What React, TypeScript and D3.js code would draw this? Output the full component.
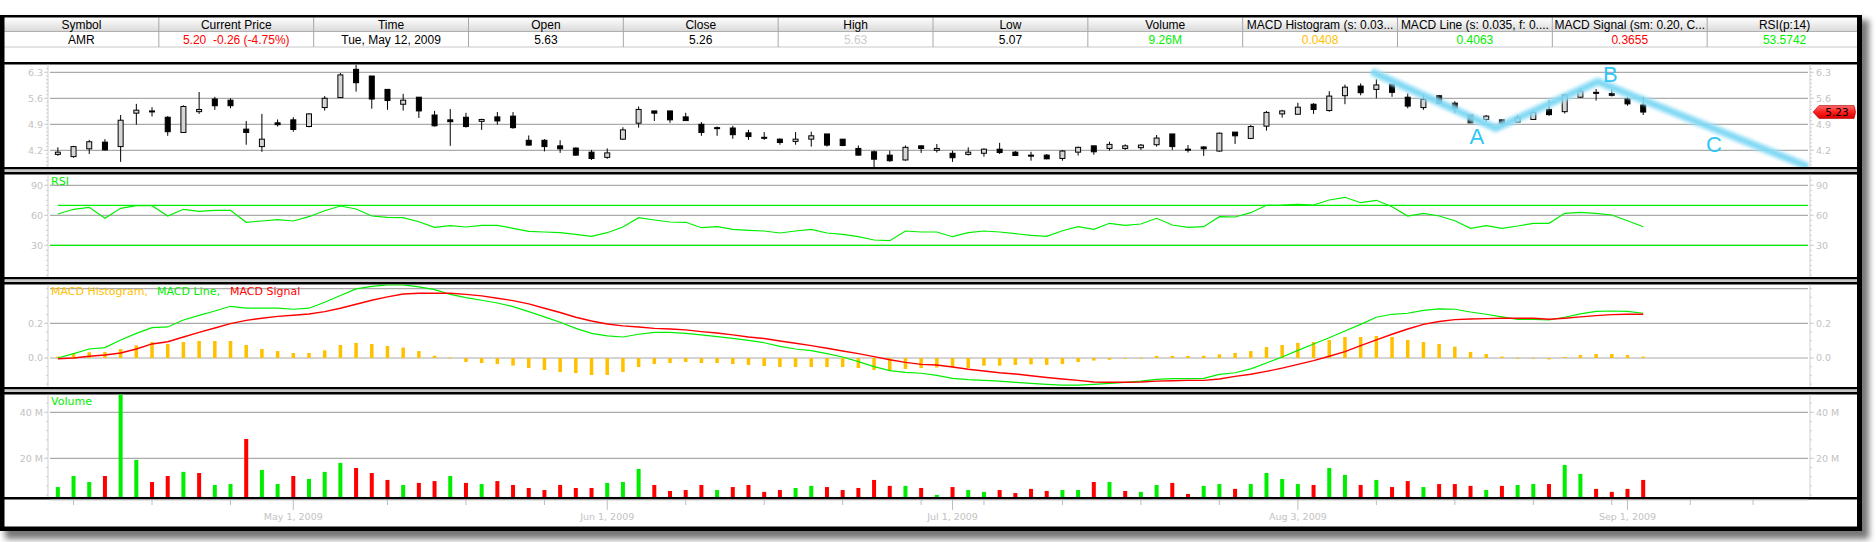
import * as d3 from "d3";

// ---- values (AMR daily, Apr - Sep 2009) ----
const opens = [4.09, 4.03, 4.24, 4.42, 4.30, 5.20, 5.25, 5.09, 4.68, 5.24, 5.58, 5.55, 4.77, 4.30, 4.94, 5.02, 4.84, 5.35, 5.62, 6.38,
  6.20, 5.84, 5.44, 5.63, 5.15, 5.02, 5.09, 4.98, 5.10, 5.12, 4.47, 4.47, 4.32, 4.26, 4.15, 4.01, 4.50, 4.93, 5.26, 5.26,
  5.10, 4.90, 4.81, 4.80, 4.67, 4.55, 4.50, 4.44, 4.50, 4.64, 4.50, 4.25, 4.16, 4.07, 3.94, 4.32, 4.20, 4.12, 4.09, 4.12,
  4.23, 4.15, 4.07, 4.07, 3.98, 4.15, 4.32, 4.25, 4.25, 4.27, 4.35, 4.64, 4.23, 4.29, 4.18, 4.69, 4.52, 4.85, 5.18, 5.17,
  5.44, 5.27, 5.67, 5.93, 5.84, 5.98, 5.63, 5.35, 5.67, 5.47, 5.15, 5.03, 5.02, 4.96, 5.03, 5.30, 5.24, 5.63, 5.76, 5.73,
  5.58, 5.42];
const highs = [4.28, 4.32, 4.48, 4.50, 5.15, 5.45, 5.36, 5.12, 5.41, 5.77, 5.64, 5.60, 4.99, 5.18, 5.03, 5.09, 5.20, 5.66, 6.28, 6.50,
  6.20, 5.84, 5.72, 5.63, 5.26, 5.31, 5.21, 5.05, 5.23, 5.23, 4.60, 4.50, 4.47, 4.28, 4.21, 4.25, 4.82, 5.38, 5.26, 5.26,
  5.21, 4.96, 4.84, 4.86, 4.75, 4.69, 4.52, 4.69, 4.70, 4.64, 4.50, 4.33, 4.19, 4.19, 4.33, 4.33, 4.37, 4.19, 4.28, 4.25,
  4.40, 4.18, 4.16, 4.10, 4.21, 4.30, 4.32, 4.43, 4.36, 4.37, 4.61, 4.64, 4.34, 4.31, 4.68, 4.69, 4.88, 5.26, 5.29, 5.48,
  5.47, 5.79, 5.97, 6.00, 6.11, 5.98, 5.73, 5.71, 5.69, 5.52, 5.15, 5.15, 5.03, 5.15, 5.27, 5.55, 5.72, 5.88, 5.85, 5.85,
  5.63, 5.64];
const lows = [4.05, 4.00, 4.10, 4.19, 3.89, 4.89, 5.11, 4.59, 4.68, 5.18, 5.29, 5.33, 4.35, 4.16, 4.84, 4.70, 4.82, 5.27, 5.62, 5.78,
  5.32, 5.29, 5.27, 5.07, 4.84, 4.32, 4.81, 4.75, 4.89, 4.78, 4.33, 4.17, 4.13, 4.05, 3.94, 3.97, 4.48, 4.81, 4.99, 4.94,
  5.00, 4.59, 4.59, 4.51, 4.48, 4.48, 4.35, 4.35, 4.30, 4.30, 4.31, 4.06, 3.74, 3.89, 3.92, 4.13, 4.14, 3.89, 4.06, 4.03,
  4.10, 4.06, 3.92, 3.96, 3.92, 4.06, 4.08, 4.19, 4.21, 4.21, 4.30, 4.21, 4.14, 4.05, 4.16, 4.37, 4.50, 4.73, 5.08, 5.17,
  5.18, 5.24, 5.44, 5.68, 5.60, 5.64, 5.33, 5.29, 5.44, 5.20, 4.93, 4.97, 4.87, 4.94, 5.02, 5.13, 5.19, 5.61, 5.54, 5.65,
  5.40, 5.15];
const closes = [4.15, 4.30, 4.43, 4.21, 5.01, 5.28, 5.26, 4.70, 5.38, 5.30, 5.40, 5.40, 4.68, 4.50, 4.89, 4.76, 5.18, 5.60, 6.23, 6.02,
  5.58, 5.54, 5.55, 5.26, 4.86, 4.97, 4.84, 5.03, 4.99, 4.81, 4.34, 4.30, 4.24, 4.07, 3.98, 4.13, 4.75, 5.30, 5.20, 5.02,
  5.00, 4.68, 4.80, 4.62, 4.57, 4.54, 4.41, 4.50, 4.59, 4.34, 4.33, 4.07, 3.96, 3.92, 4.28, 4.25, 4.25, 4.00, 4.15, 4.23,
  4.14, 4.06, 4.05, 3.97, 4.18, 4.28, 4.16, 4.36, 4.32, 4.34, 4.53, 4.30, 4.22, 4.24, 4.66, 4.59, 4.84, 5.22, 5.26, 5.36,
  5.30, 5.66, 5.90, 5.75, 5.96, 5.76, 5.39, 5.57, 5.47, 5.33, 4.94, 5.12, 4.93, 5.08, 5.22, 5.16, 5.69, 5.79, 5.75, 5.68,
  5.45, 5.23];
// volume in millions, and whether the bar is green (1) or red (0)
const volumes = [7.5, 12.3, 9.7, 12.3, 55, 19.3, 9.7, 12.3, 14.1, 13.6, 8.4, 8.8, 28.4, 14.9, 8.8, 12.3, 11, 14.1, 18, 15.8,
  13.6, 10.6, 8.4, 9.3, 10.1, 12.3, 9.3, 8.8, 10.1, 8.4, 7.1, 6.2, 8.4, 7.1, 7.1, 9.3, 9.7, 15.4, 8.4, 5.8,
  6.2, 8.4, 6.2, 7.5, 8.4, 5.4, 6.2, 7.1, 8.0, 7.5, 6.2, 7.1, 10.6, 8.0, 8.0, 7.1, 4.1, 7.5, 6.2, 5.4,
  6.2, 4.9, 6.7, 5.8, 6.2, 6.2, 9.7, 9.7, 5.8, 5.4, 8.4, 9.3, 4.5, 8.0, 8.8, 6.7, 8.8, 13.6, 11, 8.8,
  8.4, 15.8, 12.8, 8.4, 10.6, 7.5, 10.1, 7.5, 8.8, 8.8, 8.0, 6.2, 8.0, 8.4, 8.8, 8.8, 17.1, 13.2, 6.7, 5.4,
  6.7, 10.6];
const volUp = [1, 1, 1, 0, 1, 1, 0, 0, 1, 0, 1, 1, 0, 1, 1, 0, 1, 1, 1, 0,
  0, 0, 1, 0, 0, 1, 0, 1, 0, 0, 0, 0, 0, 0, 0, 1, 1, 1, 0, 0,
  0, 0, 1, 0, 0, 0, 0, 1, 1, 0, 0, 0, 0, 0, 1, 0, 1, 0, 1, 1,
  0, 0, 0, 0, 1, 1, 0, 1, 0, 1, 1, 0, 0, 1, 1, 0, 1, 1, 1, 1,
  0, 1, 1, 0, 1, 0, 0, 1, 0, 0, 0, 1, 0, 1, 1, 0, 1, 1, 0, 0,
  0, 0];
const rsi = [61.3, 66, 68, 57, 67, 69.6, 69.6, 59.3, 66, 64, 65, 65, 53, 54.3, 55.6, 54.3, 58.6, 64.6, 69.3, 66.3,
  59.3, 58, 57.6, 53.6, 48, 49.6, 48.3, 50, 50, 47, 44, 43.3, 42.6, 41, 39, 42.6, 48.3, 57.6, 55.3, 53.3,
  53, 47.6, 48.6, 46, 45, 44.3, 42.3, 44.3, 46, 42.3, 41, 38.6, 35.3, 34.6, 44.3, 43.3, 43.3, 38.6, 42.6, 44.3,
  43.3, 41.6, 40, 39, 44.6, 48.6, 46, 52, 50, 51.3, 57, 50.3, 48, 48.6, 58.6, 58.3, 62.6, 70, 70.3, 71,
  70.3, 75.3, 78, 72.6, 75, 68.6, 59.3, 62, 59.3, 54.6, 47, 49.6, 47, 49.3, 52, 52, 62, 63, 62, 60.3,
  54.6, 48.6];
const macdLine = [0, 0.025, 0.052, 0.06, 0.104, 0.142, 0.175, 0.179, 0.219, 0.246, 0.271, 0.298, 0.287, 0.287, 0.287, 0.281, 0.287, 0.321, 0.36, 0.398,
  0.413, 0.421, 0.421, 0.41, 0.394, 0.367, 0.348, 0.333, 0.317, 0.296, 0.267, 0.237, 0.206, 0.171, 0.142, 0.127, 0.121, 0.137, 0.148, 0.148,
  0.142, 0.133, 0.123, 0.113, 0.102, 0.088, 0.067, 0.052, 0.042, 0.025, 0.006, -0.021, -0.05, -0.073, -0.083, -0.088, -0.1, -0.117, -0.125, -0.129,
  -0.133, -0.14, -0.146, -0.152, -0.156, -0.156, -0.152, -0.146, -0.14, -0.133, -0.123, -0.119, -0.119, -0.117, -0.094, -0.085, -0.063, -0.029, 0.006, 0.044,
  0.081, 0.117, 0.156, 0.194, 0.235, 0.252, 0.258, 0.275, 0.283, 0.281, 0.265, 0.252, 0.237, 0.223, 0.223, 0.219, 0.235, 0.254, 0.269, 0.271,
  0.269, 0.258];
const macdSignal = [-0.004, 0, 0.01, 0.017, 0.029, 0.052, 0.081, 0.094, 0.121, 0.148, 0.173, 0.198, 0.217, 0.229, 0.24, 0.246, 0.254, 0.267, 0.287, 0.31,
  0.333, 0.352, 0.369, 0.373, 0.373, 0.373, 0.367, 0.358, 0.344, 0.331, 0.312, 0.287, 0.262, 0.235, 0.213, 0.196, 0.185, 0.179, 0.171, 0.167,
  0.162, 0.152, 0.144, 0.133, 0.121, 0.112, 0.098, 0.085, 0.071, 0.056, 0.04, 0.025, 0.008, -0.01, -0.025, -0.037, -0.04, -0.052, -0.065, -0.075,
  -0.085, -0.092, -0.102, -0.112, -0.121, -0.129, -0.138, -0.14, -0.14, -0.138, -0.133, -0.131, -0.129, -0.129, -0.121, -0.106, -0.094, -0.077, -0.058, -0.037,
  -0.015, 0.01, 0.037, 0.071, 0.104, 0.137, 0.167, 0.194, 0.21, 0.221, 0.225, 0.227, 0.229, 0.229, 0.229, 0.223, 0.229, 0.237, 0.244, 0.25,
  0.252, 0.252];
const macdHist = [0.008, 0.025, 0.033, 0.035, 0.052, 0.073, 0.092, 0.081, 0.092, 0.098, 0.098, 0.098, 0.075, 0.052, 0.04, 0.029, 0.029, 0.044, 0.075, 0.087,
  0.081, 0.069, 0.06, 0.04, 0.013, 0.002, -0.023, -0.029, -0.035, -0.044, -0.058, -0.069, -0.081, -0.087, -0.098, -0.098, -0.081, -0.052, -0.035, -0.029,
  -0.023, -0.029, -0.029, -0.035, -0.04, -0.046, -0.052, -0.052, -0.052, -0.052, -0.052, -0.058, -0.069, -0.075, -0.063, -0.058, -0.055, -0.052, -0.058, -0.044,
  -0.044, -0.04, -0.037, -0.04, -0.035, -0.023, -0.015, -0.01, -0.004, 0.001, 0.012, 0.012, 0.012, 0.013, 0.021, 0.029, 0.04, 0.063, 0.075, 0.087,
  0.092, 0.104, 0.121, 0.121, 0.127, 0.121, 0.104, 0.092, 0.081, 0.065, 0.035, 0.023, 0.008, 0.001, 0.001, -0.008, 0.006, 0.017, 0.023, 0.023,
  0.017, 0.008];

const monthTickIdx = [15, 35, 57, 79, 100];
const monthLabels = ["May 1, 2009", "Jun 1, 2009", "Jul 1, 2009", "Aug 3, 2009", "Sep 1, 2009"];
const weekTickIdx = [1, 6, 11, 21, 26, 31, 40, 45, 50, 55, 59, 64, 69, 74, 84, 89, 94, 99, 104, 108];

const headerLabels = ["Symbol", "Current Price", "Time", "Open", "Close", "High", "Low", "Volume",
  "MACD Histogram (s: 0.03...", "MACD Line (s: 0.035, f: 0....", "MACD Signal (sm: 0.20, C...", "RSI(p:14)"];
const headerValues = ["AMR", "5.20  -0.26 (-4.75%)", "Tue, May 12, 2009", "5.63", "5.26", "5.63", "5.07", "9.26M",
  "0.0408", "0.4063", "0.3655", "53.5742"];
const headerColors = ["#000", "#ff0000", "#000", "#000", "#000", "#cccccc", "#000", "#00ee00",
  "#ffc000", "#00ee00", "#ff0000", "#00ee00"];

// hand drawn A-B-C wave, in (bar index, price)
const waveIdx = [83.7, 91.6, 98.1, 111.5];
const wavePrice = [6.32, 4.79, 6.05, 3.76];
const waveLabels = ["A", "B", "C"];
const waveLabelIdx = [90.4, 98.9, 105.5];
const waveLabelPrice = [4.36, 6.05, 4.15];
const lastPrice = 5.23;

// ---- layout ----
const W = 1876, H = 542;
const X0 = 50, X1 = 1808, AXL = 48, AXR = 1810;
const FL = 0, FR = 1862, FT = 15, FB = 531;
const price = { top: 64.5, bottom: 167 };
const rsiP = { top: 174.5, bottom: 277 };
const macdP = { top: 284.5, bottom: 387 };
const volP = { top: 394.5, bottom: 497 };

const x = d3.scaleLinear().domain([-0.5, 111.5]).range([X0, X1]);
const yPrice = d3.scaleLinear().domain([4.2, 6.3]).range([150.3, 72.3]);
const yRsi = d3.scaleLinear().domain([30, 90]).range([245.3, 185.3]);
const yMacd = d3.scaleLinear().domain([0, 0.2]).range([358, 323.3]);
const yVol = d3.scaleLinear().domain([0, 40]).range([504.3, 412.3]);

const AX_FONT = "'DejaVu Sans', sans-serif";
const GRID = "#aaaaaa", AXIS = "#cfcfcf", LBL = "#c2c2c2";

function Axes({ scale, top, bottom, grid, labels, fmt, minor }: any) {
  const inside = (v: number) => scale(v) >= top + 1 && scale(v) <= bottom - 1;
  return (
    <g>
      {grid.map((v: number) => (
        <line key={"g" + v} x1={X0} x2={X1} y1={scale(v)} y2={scale(v)} stroke={GRID} strokeWidth={1.2} />
      ))}
      <line x1={AXL} x2={AXL} y1={top} y2={bottom} stroke={AXIS} />
      <line x1={AXR} x2={AXR} y1={top} y2={bottom} stroke={AXIS} />
      {minor.filter(inside).map((v: number) => (
        <g key={"m" + v}>
          <line x1={AXL - 2} x2={AXL} y1={scale(v)} y2={scale(v)} stroke={AXIS} />
          <line x1={AXR} x2={AXR + 2} y1={scale(v)} y2={scale(v)} stroke={AXIS} />
        </g>
      ))}
      {labels.map((v: number) => (
        <g key={"l" + v} fontFamily={AX_FONT} fontSize={9.5} fill={LBL}>
          <line x1={AXL - 4} x2={AXL} y1={scale(v)} y2={scale(v)} stroke={AXIS} />
          <line x1={AXR} x2={AXR + 4} y1={scale(v)} y2={scale(v)} stroke={AXIS} />
          <text x={AXL - 5} y={scale(v)} dy="0.35em" textAnchor="end">{fmt(v)}</text>
          <text x={AXR + 6} y={scale(v)} dy="0.35em">{fmt(v)}</text>
        </g>
      ))}
    </g>
  );
}

function Separator({ y }: { y: number }) {
  return (
    <g>
      <rect x={FL} y={y} width={FR - FL} height={2.5} fill="#000" />
      <rect x={FL} y={y + 2.5} width={FR - FL} height={2.5} fill="#c8c8c8" />
      <rect x={FL} y={y + 5} width={FR - FL} height={2.5} fill="#000" />
    </g>
  );
}

export default function App() {
  const idx = d3.range(closes.length);
  const colW = (FR - 4) / 12;
  const rsiLine = d3.line<number>().x((_, i) => x(i)).y(d => yRsi(d));
  const macdGen = d3.line<number>().x((_, i) => x(i)).y(d => yMacd(d));
  const wave = d3.line<number>().x(d => x(d)).y((_, i) => yPrice(wavePrice[i]));
  const tagY = yPrice(lastPrice);

  return (
    <div style={{ position: "absolute", left: 0, top: 0 }}>
      <svg width={W} height={H} style={{ display: "block", background: "#fff" }}>
        <defs>
          <filter id="shadow" x="-5%" y="-5%" width="110%" height="110%">
            <feGaussianBlur stdDeviation={3} />
          </filter>
          <filter id="glow" x="-10%" y="-10%" width="120%" height="120%">
            <feGaussianBlur stdDeviation={1.4} />
          </filter>
          <linearGradient id="hdr" x1="0" x2="0" y1="0" y2="1">
            <stop offset="0" stopColor="#ffffff" />
            <stop offset="1" stopColor="#d9d9d9" />
          </linearGradient>
          <linearGradient id="tag" x1="0" x2="0" y1="0" y2="1">
            <stop offset="0" stopColor="#ff6a6a" />
            <stop offset="0.5" stopColor="#ff2020" />
            <stop offset="1" stopColor="#d80000" />
          </linearGradient>
          {[price, rsiP, macdP, volP].map((p, k) => (
            <clipPath id={"clip" + k} key={k}>
              <rect x={AXL + 1} y={p.top} width={X1 - AXL} height={p.bottom - p.top} />
            </clipPath>
          ))}
        </defs>

        {/* frame with drop shadow */}
        <rect x={FL + 5} y={FT + 5} width={FR - FL + 2} height={FB - FT + 3} fill="#777" filter="url(#shadow)" />
        <rect x={FL} y={FT} width={FR - FL} height={FB - FT} fill="#fff" />

        {/* info table */}
        <rect x={4} y={17.5} width={FR - 8} height={14} fill="url(#hdr)" />
        <line x1={4} x2={FR - 4} y1={31.5} y2={31.5} stroke="#b0b0b0" />
        <line x1={4} x2={FR - 4} y1={47} y2={47} stroke="#c8c8c8" />
        {headerLabels.map((h, i) => (
          <g key={h} fontFamily="'Liberation Sans', Arial, sans-serif" fontSize={12} textAnchor="middle">
            {i > 0 && <line x1={4 + colW * i} x2={4 + colW * i} y1={17.5} y2={47} stroke="#a8a8a8" />}
            <text x={4 + colW * (i + 0.5)} y={28.5} fill="#000">{h}</text>
            <text x={4 + colW * (i + 0.5)} y={43.5} fill={headerColors[i]} style={{ whiteSpace: "pre" }}>{headerValues[i]}</text>
          </g>
        ))}
        <rect x={FL} y={62} width={FR - FL} height={2.5} fill="#000" />

        {/* price panel */}
        <Axes scale={yPrice} top={price.top} bottom={price.bottom} grid={[4.2, 4.9, 5.6, 6.3]} labels={[4.2, 4.9, 5.6, 6.3]}
          fmt={(v: number) => v.toFixed(1)} minor={d3.range(3.6, 6.65, 0.1)} />
        <g clipPath="url(#clip0)">
          {idx.map(i => {
            const o = opens[i], c = closes[i];
            const yt = yPrice(Math.max(o, c)), yb = yPrice(Math.min(o, c));
            const up = c > o + 0.005;
            return (
              <g key={i}>
                <line x1={x(i)} x2={x(i)} y1={yPrice(highs[i])} y2={yPrice(lows[i])} stroke="#000" />
                <rect x={x(i) - 2.5} y={yt} width={5} height={Math.max(yb - yt, 1)}
                  fill={up ? "#d6d6d6" : "#000"} stroke="#000" strokeWidth={1} />
              </g>
            );
          })}
          <path d={wave(waveIdx) || ""} fill="none" stroke="#a6e4f8" strokeWidth={9} strokeOpacity={0.8}
            filter="url(#glow)" />
          <path d={wave(waveIdx) || ""} fill="none" stroke="#6fd3f2" strokeWidth={4} strokeOpacity={0.85}
            filter="url(#glow)" />
        </g>
        {waveLabels.map((l, i) => (
          <text key={l} x={x(waveLabelIdx[i])} y={yPrice(waveLabelPrice[i])} textAnchor="middle"
            fontFamily="'Liberation Sans', Arial, sans-serif" fontSize={22} fill="#2ec6f5">{l}</text>
        ))}
        <path d={`M${AXR + 3},${tagY} L${AXR + 9},${tagY - 6.5} L${FR - 8},${tagY - 6.5} Q${FR - 5},${tagY} ${FR - 8},${tagY + 6.5} L${AXR + 9},${tagY + 6.5} Z`}
          fill="url(#tag)" stroke="#b00000" strokeWidth={0.6} />
        <text x={(AXR + FR) / 2 + 1} y={tagY} dy="0.36em" textAnchor="middle" fontFamily={AX_FONT} fontSize={10.5} fill="#000">
          {lastPrice.toFixed(2)}
        </text>
        <Separator y={price.bottom} />

        {/* RSI */}
        <Axes scale={yRsi} top={rsiP.top} bottom={rsiP.bottom} grid={[30, 60, 90]} labels={[30, 60, 90]}
          fmt={(v: number) => String(v)} minor={d3.range(0, 101, 5)} />
        <line x1={x(0)} x2={X1} y1={yRsi(70)} y2={yRsi(70)} stroke="#00ee00" strokeWidth={1.3} />
        <line x1={X0} x2={X1} y1={yRsi(30)} y2={yRsi(30)} stroke="#00ee00" strokeWidth={1.3} />
        <g clipPath="url(#clip1)">
          <path d={rsiLine(rsi) || ""} fill="none" stroke="#00ee00" strokeWidth={1.2} />
        </g>
        <text x={51} y={185} fontFamily={AX_FONT} fontSize={11} fill="#00ee00">RSI</text>
        <Separator y={rsiP.bottom} />

        {/* MACD */}
        <Axes scale={yMacd} top={macdP.top} bottom={macdP.bottom} grid={[0, 0.2, 0.4]} labels={[0, 0.2]}
          fmt={(v: number) => v.toFixed(1)} minor={d3.range(-0.2, 0.45, 0.05)} />
        <g clipPath="url(#clip2)">
          {idx.map(i => (
            <rect key={i} x={x(i) - 1.75} width={3.5} y={Math.min(yMacd(0), yMacd(macdHist[i]))}
              height={Math.max(Math.abs(yMacd(macdHist[i]) - yMacd(0)), 0.8)} fill="#ffc000" />
          ))}
          <path d={macdGen(macdLine) || ""} fill="none" stroke="#00ee00" strokeWidth={1.2} />
          <path d={macdGen(macdSignal) || ""} fill="none" stroke="#ff0000" strokeWidth={1.4} />
        </g>
        <g fontFamily={AX_FONT} fontSize={11}>
          <text x={51} y={295} fill="#ffc000">MACD Histogram,</text>
          <text x={157} y={295} fill="#00ee00">MACD Line,</text>
          <text x={230} y={295} fill="#ff0000">MACD Signal</text>
        </g>
        <Separator y={macdP.bottom} />

        {/* Volume */}
        <Axes scale={yVol} top={volP.top} bottom={volP.bottom} grid={[20, 40]} labels={[20, 40]}
          fmt={(v: number) => v + " M"} minor={d3.range(0, 53, 4)} />
        <g clipPath="url(#clip3)">
          {idx.map(i => (
            <rect key={i} x={x(i) - 2} width={4} y={yVol(volumes[i])} height={volP.bottom - yVol(volumes[i])}
              fill={volUp[i] ? "#00ee00" : "#ff0000"} />
          ))}
        </g>
        <text x={51} y={405} fontFamily={AX_FONT} fontSize={11} fill="#00ee00">Volume</text>
        <rect x={FL} y={volP.bottom} width={FR - FL} height={2.5} fill="#000" />

        {/* date axis */}
        <line x1={X0} x2={X1} y1={volP.bottom + 3} y2={volP.bottom + 3} stroke={AXIS} />
        {weekTickIdx.map(i => (
          <line key={i} x1={x(i)} x2={x(i)} y1={volP.bottom + 3} y2={volP.bottom + 8} stroke="#bdbdbd" />
        ))}
        {monthTickIdx.map((i, k) => (
          <g key={i}>
            <line x1={x(i)} x2={x(i)} y1={volP.bottom + 3} y2={volP.bottom + 13} stroke="#bdbdbd" />
            <text x={x(i)} y={520} textAnchor="middle" fontFamily={AX_FONT} fontSize={9.5} fill={LBL}>{monthLabels[k]}</text>
          </g>
        ))}

        {/* heavy outer border */}
        <rect x={FL} y={FT} width={FR - FL} height={2.5} fill="#000" />
        <rect x={FL} y={FT} width={4.5} height={FB - FT} fill="#000" />
        <rect x={FR - 5} y={FT} width={5} height={FB - FT} fill="#000" />
        <rect x={FL} y={FB - 4.5} width={FR - FL} height={4.5} fill="#000" />
      </svg>
    </div>
  );
}
